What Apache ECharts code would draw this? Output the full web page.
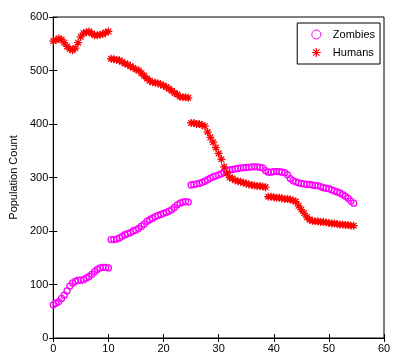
<!DOCTYPE html>
<html>
<head>
<meta charset="utf-8">
<script src="https://cdn.jsdelivr.net/npm/echarts@6/dist/echarts.min.js"></script>
<style>html,body{margin:0;padding:0;background:#fff;}#c{width:400px;height:356px;}</style>
</head>
<body>
<div id="c"></div>
<script>
var times = [0,0.5,1,1.5,2,2.5,3,3.5,4,4.5,5,5.5,6,6.5,7,7.5,8,8.5,9,9.5,
10,10.5,11,11.5,12,12.5,13,13.5,14,14.5,15,15.5,16,16.5,17,17.5,18,18.5,19,19.5,
20,20.5,21,21.5,22,22.5,23,23.5,24,24.5,25,25.5,26,26.5,27,27.5,28,28.5,29,29.5,
30,30.5,31,31.5,32,32.5,33,33.5,34,34.5,35,35.5,36,36.5,37,37.5,38,38.5,39,39.5,
40,40.5,41,41.5,42,42.5,43,43.5,44,44.5,45,45.5,46,46.5,47,47.5,48,48.5,49,49.5,
50,50.5,51,51.5,52,52.5,53,53.5,54,54.5];
var humans = [555,557,560,558,552,545,540,538,542,552,563,570,571,573,569,566,566,567,568,571,
573,522,521,520,519,516,513,511,508,505,502,500,495,490,485,481,478,477,476,474,
472,469,466,462,458,455,451,450,450,449,402,402,400,400,398,396,385,375,366,356,
345,334,320,308,300,298,295,293,292,290,289,287,286,285,284,284,283,282,264,264,
263,262,262,261,260,260,259,257,255,247,240,233,226,221,219,218,218,217,217,216,
215,214,214,213,212,212,211,211,210,210];
var zombies = [62,65,68,74,80,88,97,103,106,108,108,109,112,115,119,124,128,131,132,132,
131,184,184,185,187,190,193,195,197,200,202,205,209,213,218,221,224,227,229,231,
233,235,237,240,244,249,252,254,255,254,286,287,288,289,291,293,296,299,301,303,
305,307,310,313,314,315,316,317,318,318,319,319,320,320,320,319,318,313,310,310,
311,311,311,310,309,305,298,294,292,290,289,288,287,287,286,285,285,283,281,280,
279,277,275,273,271,268,265,261,256,252];
var xTicks = [0,10,20,30,40,50,60];
var yTicks = [0,100,200,300,400,500,600];

function pairs(vals){ return times.map(function(t,i){ return [t, vals[i]]; }); }

var star = 'path://M0,-5L0,5M-5,0L5,0M-3.5,-3.5L3.5,3.5M-3.5,3.5L3.5,-3.5';
var chart = echarts.init(document.getElementById('c'));
var font = 'Liberation Sans, Arial, sans-serif';
chart.setOption({
  animation: false,
  backgroundColor: '#fff',
  grid: {left: 49, right: 16, top: 17, bottom: 18, show: true, borderColor: '#000', borderWidth: 1},
  legend: {
    right: 20, top: 23, orient: 'vertical', align: 'left',
    backgroundColor: '#fff', borderColor: '#000', borderWidth: 1,
    padding: [6, 5, 6, 14], itemGap: 7, itemWidth: 9, itemHeight: 9,
    textStyle: {fontFamily: font, fontSize: 11, color: '#000', padding: [0,0,0,7]},
    data: [
      {name: 'Zombies', icon: 'circle', itemStyle: {color: 'transparent', borderColor: '#ff00ff', borderWidth: 1}},
      {name: 'Humans', icon: star, itemStyle: {color: 'transparent', borderColor: '#ff0000', borderWidth: 1.2}}
    ]
  },
  xAxis: [{
    type: 'value', min: 0, max: 60, interval: 10,
    axisLine: {show: true, lineStyle: {color: '#000'}},
    axisTick: {inside: true, length: 4, lineStyle: {color: '#000'}},
    axisLabel: {fontFamily: font, fontSize: 11, color: '#000', margin: 5},
    splitLine: {show: false}
  }, {
    type: 'value', min: 0, max: 60, interval: 10, position: 'top',
    axisLine: {show: true, lineStyle: {color: '#000'}},
    axisTick: {inside: true, length: 4, lineStyle: {color: '#000'}},
    axisLabel: {show: false}, splitLine: {show: false}
  }],
  yAxis: [{
    type: 'value', min: 0, max: 600, interval: 100,
    name: 'Population Count', nameLocation: 'middle', nameGap: 23,
    nameTextStyle: {fontFamily: font, fontSize: 11, color: '#000'},
    axisLine: {show: true, lineStyle: {color: '#000'}},
    axisTick: {inside: true, length: 4, lineStyle: {color: '#000'}},
    axisLabel: {fontFamily: font, fontSize: 11, color: '#000', margin: 5},
    splitLine: {show: false}
  }, {
    type: 'value', min: 0, max: 600, interval: 100, position: 'right',
    axisLine: {show: true, lineStyle: {color: '#000'}},
    axisTick: {inside: true, length: 4, lineStyle: {color: '#000'}},
    axisLabel: {show: false}, splitLine: {show: false}
  }],
  series: [{
    name: 'Zombies', type: 'scatter', data: pairs(zombies),
    symbol: 'circle', symbolSize: 6,
    itemStyle: {color: 'transparent', borderColor: '#ff00ff', borderWidth: 1.3, opacity: 1}
  }, {
    name: 'Humans', type: 'scatter', data: pairs(humans),
    symbol: star, symbolSize: 8,
    itemStyle: {color: 'transparent', borderColor: '#ff0000', borderWidth: 1.3, opacity: 1}
  }]
});
</script>
</body>
</html>
